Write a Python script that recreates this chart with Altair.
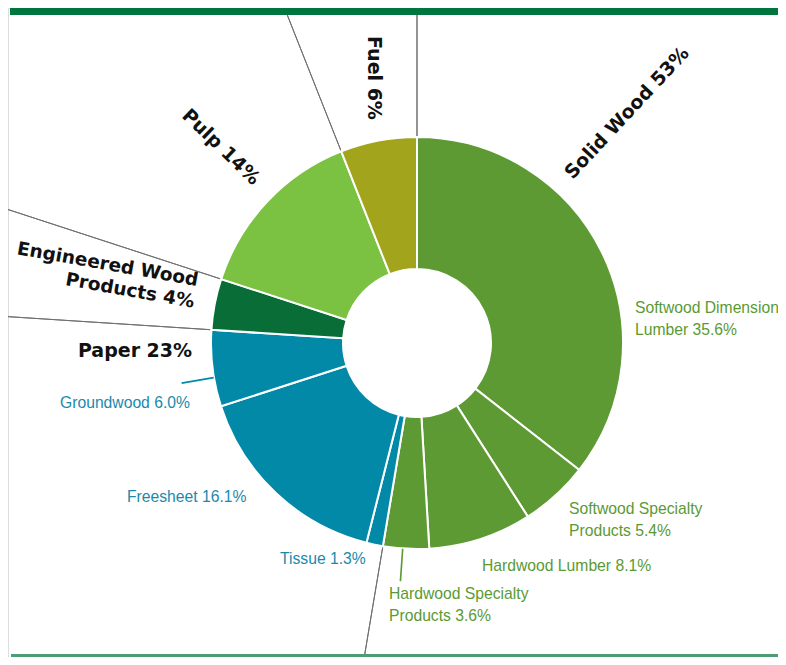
import math
import altair as alt
import pandas as pd

# ---------------- data ----------------
categories = ["Softwood Dimension Lumber", "Softwood Specialty Products", "Hardwood Lumber",
              "Hardwood Specialty Products", "Tissue", "Freesheet", "Groundwood",
              "Engineered Wood Products", "Pulp", "Fuel"]
shares = [35.6, 5.4, 8.1, 3.6, 1.3, 16.1, 6.0, 4.0, 14.0, 6.0]
groups = ["Solid Wood"] * 4 + ["Paper"] * 3 + ["Engineered Wood Products", "Pulp", "Fuel"]

group_names = ["Solid Wood", "Paper", "Engineered Wood Products", "Pulp", "Fuel"]
group_totals = [53, 23, 4, 14, 6]
group_colors = ["#5e9a34", "#0189a7", "#086d37", "#7bc142", "#a2a41c"]

df = pd.DataFrame({"idx": list(range(len(categories))), "category": categories,
                   "share": shares, "group": groups})
total = sum(shares)

# ---------------- layout / style ----------------
W, H = 770, 649
CX, CY = 409, 335
R_IN, R_OUT = 74, 206

theta_scale = alt.Scale(domain=[0, total], range=[0, 2 * math.pi])
color_scale = alt.Scale(domain=group_names, range=group_colors)
cx, cy = alt.value(CX), alt.value(CY)

base = alt.Chart(df)

# extended group boundaries (run off the chart edge, hidden under the ring)
bounds = base.transform_aggregate(
    share="sum(share)", first="min(idx)", groupby=["group"]
).mark_arc(innerRadius=150, outerRadius=640, filled=False, stroke="#707070",
           strokeWidth=1).encode(
    theta=alt.Theta("share:Q", stack=True, scale=theta_scale),
    order=alt.Order("first:Q"),
    x=cx, y=cy,
)

ring = base.mark_arc(innerRadius=R_IN, outerRadius=R_OUT, stroke="white", strokeWidth=2).encode(
    theta=alt.Theta("share:Q", stack=True, scale=theta_scale),
    color=alt.Color("group:N", scale=color_scale, legend=None),
    order=alt.Order("idx:Q"),
    x=cx, y=cy,
)

# short leader ticks for two labels (position inside their slice)
leader_frac = {"Groundwood": 0.38, "Hardwood Specialty Products": 0.57}
frac_expr = " : ".join(
    [f"datum.category == '{k}' ? {v}" for k, v in leader_frac.items()] + ["0.5"]
)
leaders = base.transform_window(
    cum="sum(share)", sort=[alt.SortField("idx")], frame=[None, 0]
).transform_calculate(
    pos=f"datum.cum - datum.share + datum.share * ({frac_expr})",
).transform_calculate(
    pos2="datum.pos + 0.01",
).transform_filter(
    alt.FieldOneOfPredicate(field="category", oneOf=list(leader_frac.keys()))
).mark_arc(filled=False, strokeWidth=1.5).encode(
    theta=alt.Theta("pos:Q", scale=theta_scale),
    theta2="pos2:Q",
    radius=alt.value(238), radius2=alt.value(207),
    color=alt.Color("group:N", scale=color_scale, legend=None),
    x=cx, y=cy,
)

# ---------------- labels ----------------
def pct1(v):
    return f"{v:.1f}%"

small_text = {
    "Softwood Dimension Lumber": f"Softwood Dimension\nLumber {pct1(shares[0])}",
    "Softwood Specialty Products": f"Softwood Specialty\nProducts {pct1(shares[1])}",
    "Hardwood Lumber": f"Hardwood Lumber {pct1(shares[2])}",
    "Hardwood Specialty Products": f"Hardwood Specialty\nProducts {pct1(shares[3])}",
    "Tissue": f"Tissue {pct1(shares[4])}",
    "Freesheet": f"Freesheet {pct1(shares[5])}",
    "Groundwood": f"Groundwood {pct1(shares[6])}",
}
small_pos = {
    "Softwood Dimension Lumber": (627, 305),
    "Softwood Specialty Products": (561, 506),
    "Hardwood Lumber": (474, 563),
    "Hardwood Specialty Products": (381, 591),
    "Tissue": (272, 556),
    "Freesheet": (119, 494),
    "Groundwood": (52, 400),
}
text_colors = {"Solid Wood": "#5a9a34", "Paper": "#1a8aab"}

label_rows = []
for c, g in zip(categories, groups):
    if c in small_text:
        label_rows.append({"key": c, "text": small_text[c], "kind": g})
group_text = {
    "Solid Wood": f"Solid Wood {group_totals[0]}%",
    "Paper": f"Paper {group_totals[1]}%",
    "Engineered Wood Products": f"Engineered Wood\nProducts {group_totals[2]}%",
    "Pulp": f"Pulp {group_totals[3]}%",
    "Fuel": f"Fuel {group_totals[4]}%",
}
for gname in group_names:
    label_rows.append({"key": "G:" + gname, "text": group_text[gname], "kind": "group"})
labels_df = pd.DataFrame(label_rows)

layers = [bounds, ring, leaders]
lab_base = alt.Chart(labels_df)
for key, (px, py) in small_pos.items():
    kind = groups[categories.index(key)]
    layers.append(
        lab_base.transform_filter(alt.datum.key == key).mark_text(
            align="left", baseline="alphabetic", font="Liberation Sans", fontSize=15.7,
            lineBreak="\n", lineHeight=22, color=text_colors[kind]
        ).encode(text="text:N", x=alt.value(px), y=alt.value(py))
    )

group_style = {
    "Solid Wood": dict(x=619, y=105, angle=313, align="center", baseline="middle"),
    "Fuel": dict(x=366, y=70, angle=90, align="center", baseline="middle"),
    "Pulp": dict(x=213, y=139, angle=44, align="center", baseline="middle"),
    "Engineered Wood Products": dict(x=189, y=278, angle=10, align="right", baseline="alphabetic"),
    "Paper": dict(x=127, y=349, angle=0, align="center", baseline="alphabetic"),
}
for gname, st in group_style.items():
    layers.append(
        lab_base.transform_filter(alt.datum.key == "G:" + gname).mark_text(
            align=st["align"], baseline=st["baseline"], angle=st["angle"],
            font="DejaVu Sans", fontWeight="bold",
            fontSize=19 if gname != "Engineered Wood Products" else 18.5,
            lineBreak="\n", lineHeight=22, color="#111111"
        ).encode(text="text:N", x=alt.value(st["x"]), y=alt.value(st["y"]))
    )

# decorative top / bottom bands
band_df = pd.DataFrame({"b": [0]})
top_band = alt.Chart(band_df).mark_rect(color="#00763f").encode(
    x=alt.value(2), x2=alt.value(W), y=alt.value(0), y2=alt.value(7))
bottom_band = alt.Chart(band_df).mark_rect(color="#4f9d74").encode(
    x=alt.value(3), x2=alt.value(W), y=alt.value(H - 3), y2=alt.value(H))
layers += [top_band, bottom_band]

chart = alt.layer(*layers).properties(
    width=W, height=H, padding=0, autosize=alt.AutoSizeParams(type="none")
).configure_view(stroke=None).configure(background="white")

chart.save("out.html", embed_options={"renderer": "svg", "actions": False})
